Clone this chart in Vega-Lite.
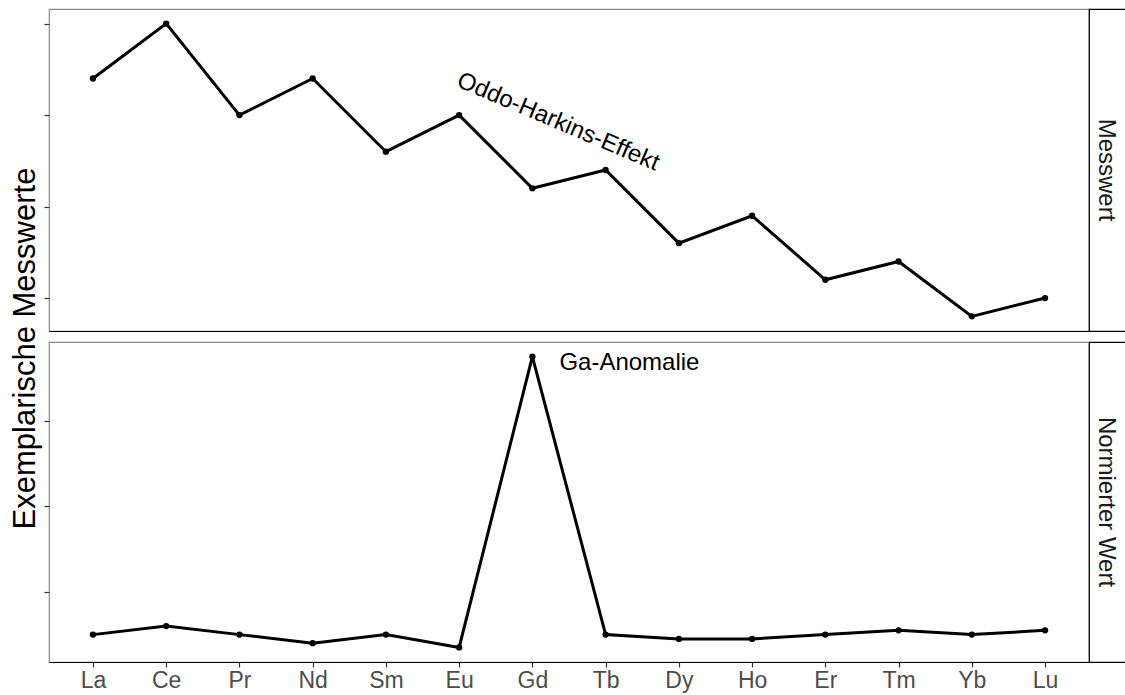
{
  "$schema": "https://vega.github.io/schema/vega-lite/v6.json",
  "padding": {"left": 8, "top": 8, "right": 0, "bottom": 0},
  "background": "white",
  "columns": 2,
  "spacing": {"row": 11, "column": 0},
  "bounds": "flush",
  "config": {
    "font": "Liberation Sans",
    "view": {"stroke": "#8a8a8a", "strokeWidth": 1.2},
    "axis": {"grid": false}
  },
  "datasets": {
    "messwert": [
      {"element": "La", "value": 8.8},
      {"element": "Ce", "value": 10},
      {"element": "Pr", "value": 8},
      {"element": "Nd", "value": 8.8},
      {"element": "Sm", "value": 7.2},
      {"element": "Eu", "value": 8},
      {"element": "Gd", "value": 6.4},
      {"element": "Tb", "value": 6.8},
      {"element": "Dy", "value": 5.2},
      {"element": "Ho", "value": 5.8},
      {"element": "Er", "value": 4.4},
      {"element": "Tm", "value": 4.8},
      {"element": "Yb", "value": 3.6},
      {"element": "Lu", "value": 4}
    ],
    "normiert": [
      {"element": "La", "value": 1},
      {"element": "Ce", "value": 1.2},
      {"element": "Pr", "value": 1},
      {"element": "Nd", "value": 0.8},
      {"element": "Sm", "value": 1},
      {"element": "Eu", "value": 0.7},
      {"element": "Gd", "value": 7.5},
      {"element": "Tb", "value": 1},
      {"element": "Dy", "value": 0.9},
      {"element": "Ho", "value": 0.9},
      {"element": "Er", "value": 1},
      {"element": "Tm", "value": 1.1},
      {"element": "Yb", "value": 1},
      {"element": "Lu", "value": 1.1}
    ],
    "note_top": [{"element": "Gd", "value": 8.09, "label": "Oddo-Harkins-Effekt"}],
    "note_bottom": [{"element": "Gd", "value": 7.35, "label": "Ga-Anomalie"}]
  },
  "concat": [
    {
      "width": 1040,
      "height": 322,
      "encoding": {
        "x": {
          "field": "element", "type": "nominal",
          "scale": {"type": "point", "padding": 0.6, "domain": ["La","Ce","Pr","Nd","Sm","Eu","Gd","Tb","Dy","Ho","Er","Tm","Yb","Lu"]},
          "axis": {"title": null, "labels": false, "ticks": false, "domainColor": "black", "domainWidth": 1.2}
        },
        "y": {
          "field": "value", "type": "quantitative",
          "scale": {"domain": [3.28, 10.32], "nice": false, "zero": false},
          "axis": {
            "values": [4, 6, 8, 10], "labels": false, "domain": false,
            "tickColor": "#333333", "tickSize": 5, "tickWidth": 1.2,
            "title": "Exemplarische Messwerte", "titleFontSize": 31, "titleFontWeight": "normal",
            "titleColor": "black", "titleX": -15, "titleY": 339, "titleBaseline": "alphabetic",
            "titleAngle": 270, "titleAlign": "center"
          }
        }
      },
      "layer": [
        {
          "data": {"name": "messwert"},
          "mark": {"type": "line", "color": "black", "strokeWidth": 3},
          "encoding": {"order": {"value": null}}
        },
        {
          "data": {"name": "messwert"},
          "mark": {"type": "circle", "color": "black", "size": 40, "opacity": 1}
        },
        {
          "data": {"name": "note_top"},
          "mark": {"type": "text", "angle": 23, "fontSize": 24, "align": "center", "baseline": "middle", "dx": 28, "color": "black"},
          "encoding": {"text": {"field": "label"}}
        }
      ]
    },
    {
      "width": 40,
      "height": 322,
      "view": {"stroke": "black", "strokeWidth": 1.2},
      "data": {"values": [{"strip": "Messwert"}]},
      "mark": {"type": "text", "angle": 90, "fontSize": 24, "color": "#1a1a1a", "baseline": "middle", "align": "center", "dy": 3},
      "encoding": {"text": {"field": "strip"}}
    },
    {
      "width": 1040,
      "height": 320,
      "encoding": {
        "x": {
          "field": "element", "type": "nominal",
          "scale": {"type": "point", "padding": 0.6, "domain": ["La","Ce","Pr","Nd","Sm","Eu","Gd","Tb","Dy","Ho","Er","Tm","Yb","Lu"]},
          "axis": {
            "title": null, "labelAngle": 0, "labelFontSize": 23, "labelColor": "#4d4d4d",
            "labelPadding": 2, "tickColor": "#333333", "tickSize": 5, "tickWidth": 1.2,
            "domainColor": "black", "domainWidth": 1.2
          }
        },
        "y": {
          "field": "value", "type": "quantitative",
          "scale": {"domain": [0.36, 7.84], "nice": false, "zero": false},
          "axis": {"values": [2, 4, 6], "labels": false, "domain": false, "title": null, "tickColor": "#333333", "tickSize": 5, "tickWidth": 1.2}
        }
      },
      "layer": [
        {
          "data": {"name": "normiert"},
          "mark": {"type": "line", "color": "black", "strokeWidth": 3},
          "encoding": {"order": {"value": null}}
        },
        {
          "data": {"name": "normiert"},
          "mark": {"type": "circle", "color": "black", "size": 40, "opacity": 1}
        },
        {
          "data": {"name": "note_bottom"},
          "mark": {"type": "text", "fontSize": 24, "align": "left", "baseline": "middle", "dx": 27, "color": "black"},
          "encoding": {"text": {"field": "label"}}
        }
      ]
    },
    {
      "width": 40,
      "height": 320,
      "view": {"stroke": "black", "strokeWidth": 1.2},
      "data": {"values": [{"strip": "Normierter Wert"}]},
      "mark": {"type": "text", "angle": 90, "fontSize": 24, "color": "#1a1a1a", "baseline": "middle", "align": "center", "dy": 3},
      "encoding": {"text": {"field": "strip"}}
    }
  ]
}
